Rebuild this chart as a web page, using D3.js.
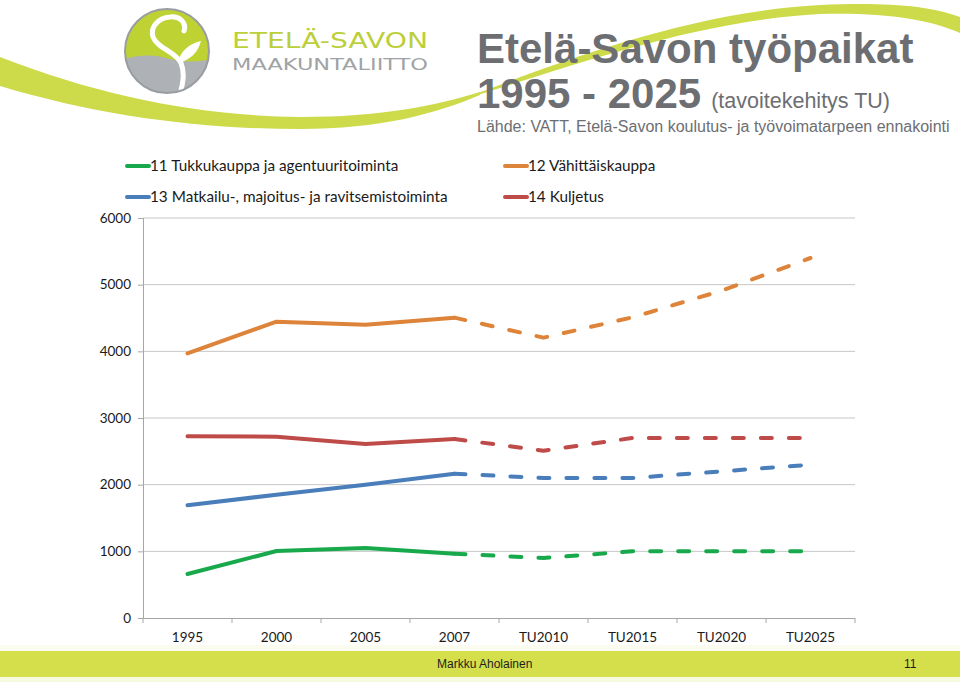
<!DOCTYPE html>
<html>
<head>
<meta charset="utf-8">
<script src="https://cdn.jsdelivr.net/npm/d3@7"></script>
<style>
  html, body { margin: 0; padding: 0; background: #ffffff; }
  svg { display: block; }
</style>
</head>
<body>
<svg id="chart" width="960" height="682"></svg>
<script>
// ---------------- DATA ----------------
const categories = ["1995", "2000", "2005", "2007", "TU2010", "TU2015", "TU2020", "TU2025"];
const tukkukauppa = [660, 1005, 1050, 965, 900, 1000, 1000, 1000];
const vahittaiskauppa = [3970, 4445, 4400, 4505, 4205, 4510, 4910, 5400];
const matkailu = [1690, 1850, 2000, 2165, 2100, 2100, 2200, 2300];
const kuljetus = [2725, 2720, 2610, 2685, 2510, 2700, 2700, 2700];
const seriesNames = [
  "11 Tukkukauppa ja agentuuritoiminta",
  "12 Vähittäiskauppa",
  "13 Matkailu-, majoitus- ja ravitsemistoiminta",
  "14 Kuljetus"
];
const yTicks = [0, 1000, 2000, 3000, 4000, 5000, 6000];
const lastActual = "2007";   // solid up to here, dashed forecast after
const titleLine1 = "Etelä-Savon työpaikat";
const titleLine2 = "1995 - 2025";
const titleNote = "(tavoitekehitys TU)";
const sourceText = "Lähde: VATT, Etelä-Savon koulutus- ja työvoimatarpeen ennakointi";
const logoLine1 = "ETELÄ-SAVON";
const logoLine2 = "MAAKUNTALIITTO";
const footerAuthor = "Markku Aholainen";
const footerPage = "11";

// ---------------- SETUP ----------------
const colors = ["#17A94B", "#DE843A", "#4A7EBB", "#BE4B48"];
const seriesValues = [tukkukauppa, vahittaiskauppa, matkailu, kuljetus];
const svg = d3.select("#chart");

// --- decorative swooshes ---
svg.append("path")
  .attr("d", "M0,57 C100,96 200,116 300,117 C380,117 435,106 480,92 L480,95 C435,114 380,129 300,129 C200,129 100,116 0,86 Z")
  .attr("fill", "#CDDB4B");
svg.append("path")
  .attr("d", "M478,93 C560,62 690,12 820,5 C880,2 930,5 960,17 L960,33 C930,19 880,12 820,14 C700,20 570,66 478,95 Z")
  .attr("fill", "#CDDB4B");

// --- logo ---
const logo = svg.append("g");
const cx = 167, cy = 51, r = 42;
logo.append("clipPath").attr("id", "lc").append("circle").attr("cx", cx).attr("cy", cy).attr("r", r);
logo.append("circle").attr("cx", cx).attr("cy", cy).attr("r", r).attr("fill", "#BED233");
logo.append("path")
  .attr("clip-path", "url(#lc)")
  .attr("d", "M120,60 C138,55 152,54 166,58 C182,62 196,63 215,58 L215,100 L120,100 Z")
  .attr("fill", "#AEB1B5");
logo.append("path")
  .attr("d", "M184,31 C187,22 179,16 170,17 C158,18 150,27 153,37 C157,48 176,52 181,63 C185,73 183,83 180,94")
  .attr("fill", "none").attr("stroke", "#ffffff").attr("stroke-width", 5).attr("stroke-linecap", "round")
  .attr("clip-path", "url(#lc)");
logo.append("path")
  .attr("d", "M178,63 C180,51 189,44 201,41 C198,52 191,60 178,63 Z")
  .attr("fill", "#ffffff");
logo.append("circle").attr("cx", cx).attr("cy", cy).attr("r", r)
  .attr("fill", "none").attr("stroke", "#9A9DA0").attr("stroke-width", 2);

const logoFont = "'DejaVu Sans', sans-serif";
svg.append("text").attr("x", 232).attr("y", 48)
  .attr("font-family", logoFont).attr("font-size", 21)
  .attr("fill", "#BCCF3A").attr("textLength", 196).attr("lengthAdjust", "spacingAndGlyphs")
  .text(logoLine1);
svg.append("text").attr("x", 232).attr("y", 70)
  .attr("font-family", logoFont).attr("font-size", 16.5)
  .attr("fill", "#A0A2A5").attr("textLength", 196).attr("lengthAdjust", "spacingAndGlyphs")
  .text(logoLine2);

// --- title ---
const titleFont = "'Liberation Sans', Arial, sans-serif";
svg.append("text").attr("x", 477).attr("y", 63)
  .attr("font-family", titleFont).attr("font-weight", "bold").attr("font-size", 42)
  .attr("fill", "#6D6E72").text(titleLine1);
const t2 = svg.append("text").attr("x", 477).attr("y", 108)
  .attr("font-family", titleFont).attr("fill", "#6D6E72");
t2.append("tspan").attr("font-weight", "bold").attr("font-size", 42).text(titleLine2);
t2.append("tspan").attr("font-size", 21.5).attr("dx", 10).text(titleNote);
svg.append("text").attr("x", 477).attr("y", 132)
  .attr("font-family", titleFont).attr("font-size", 16)
  .attr("fill", "#6D6E72").text(sourceText);

// ---------------- CHART ----------------
const chartFont = "Lato, 'Open Sans', sans-serif";
const plotLeft = 143, plotRight = 855, plotTop = 218, plotBottom = 618;
const x = d3.scaleBand().domain(categories).range([plotLeft, plotRight]).paddingInner(0).paddingOuter(0);
const xc = d => x(d) + x.bandwidth() / 2;
const y = d3.scaleLinear().domain([0, 6000]).range([plotBottom, plotTop]);

// gridlines
svg.append("g").selectAll("line").data(yTicks.filter(t => t > 0)).join("line")
  .attr("x1", plotLeft).attr("x2", plotRight)
  .attr("y1", d => y(d)).attr("y2", d => y(d))
  .attr("stroke", "#C6C6C6").attr("stroke-width", 1);

// y axis
const yAxis = svg.append("g").attr("transform", `translate(${plotLeft},0)`)
  .call(d3.axisLeft(y).tickValues(yTicks).tickSize(5).tickPadding(7).tickFormat(d3.format("d")));
yAxis.select(".domain").attr("stroke", "#A6A6A6");
yAxis.selectAll(".tick line").attr("stroke", "#A6A6A6");
yAxis.selectAll("text").attr("font-family", chartFont).attr("font-size", 13.5).attr("fill", "#1a1a1a");

// x axis
const xAxisG = svg.append("g").attr("transform", `translate(0,${plotBottom})`)
  .call(d3.axisBottom(x).tickSize(0).tickPadding(14));
xAxisG.select(".domain").attr("stroke", "#A6A6A6").attr("d", `M${plotLeft},0.5H${plotRight}`);
xAxisG.selectAll("text").attr("font-family", chartFont).attr("font-size", 13.5).attr("fill", "#1a1a1a");
const bounds = categories.map(c => x(c)).concat([plotRight]);
xAxisG.selectAll(".btick").data(bounds).join("line").attr("class", "btick")
  .attr("x1", d => d).attr("x2", d => d).attr("y1", 0).attr("y2", 5)
  .attr("stroke", "#A6A6A6");

// lines
const splitIdx = categories.indexOf(lastActual);
const line = d3.line().x(d => xc(d.c)).y(d => y(d.v));
const linesG = svg.append("g");
seriesValues.forEach((vals, i) => {
  const pts = vals.map((v, j) => ({ c: categories[j], v }));
  linesG.append("path")
    .datum(pts.slice(0, splitIdx + 1))
    .attr("d", line)
    .attr("fill", "none").attr("stroke", colors[i]).attr("stroke-width", 4)
    .attr("stroke-linejoin", "round").attr("stroke-linecap", "round");
  linesG.append("path")
    .datum(pts.slice(splitIdx))
    .attr("d", line)
    .attr("fill", "none").attr("stroke", colors[i]).attr("stroke-width", 4)
    .attr("stroke-dasharray", "11,17")
    .attr("stroke-linejoin", "round").attr("stroke-linecap", "round");
});

// legend
const legendPos = [
  { lx: 127, ly: 166 }, { lx: 505, ly: 166 },
  { lx: 127, ly: 197 }, { lx: 505, ly: 197 }
];
const legend = svg.append("g");
seriesNames.forEach((name, i) => {
  const p = legendPos[i];
  legend.append("line")
    .attr("x1", p.lx).attr("x2", p.lx + 22).attr("y1", p.ly).attr("y2", p.ly)
    .attr("stroke", colors[i]).attr("stroke-width", 4).attr("stroke-linecap", "round");
  legend.append("text")
    .attr("x", p.lx + 23).attr("y", p.ly).attr("dy", "0.35em")
    .attr("font-family", chartFont).attr("font-size", 15.3)
    .attr("fill", "#1a1a1a").text(name);
});

// ---------------- FOOTER ----------------
svg.append("rect").attr("x", 0).attr("y", 645).attr("width", 960).attr("height", 6).attr("fill", "#FBFCEF");
svg.append("rect").attr("x", 0).attr("y", 651).attr("width", 960).attr("height", 26).attr("fill", "#D4DF4B");
svg.append("rect").attr("x", 0).attr("y", 677).attr("width", 960).attr("height", 5).attr("fill", "#F8FADF");
svg.append("text").attr("x", 437).attr("y", 668)
  .attr("font-family", titleFont).attr("font-size", 12).attr("fill", "#1e1e1e").text(footerAuthor);
svg.append("text").attr("x", 904).attr("y", 668)
  .attr("font-family", titleFont).attr("font-size", 12).attr("fill", "#1e1e1e").text(footerPage);
</script>
</body>
</html>
